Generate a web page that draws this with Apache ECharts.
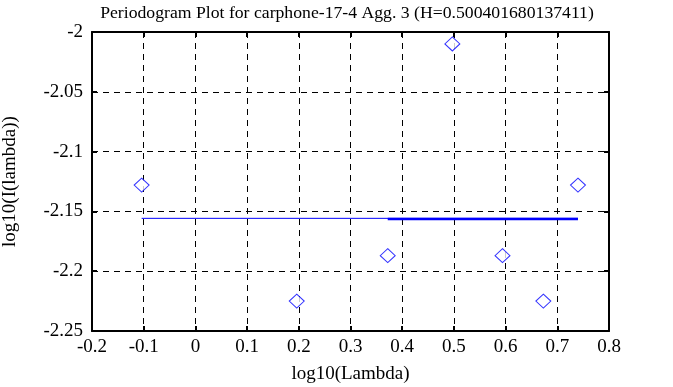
<!DOCTYPE html>
<html>
<head>
<meta charset="utf-8">
<script src="https://cdn.jsdelivr.net/npm/echarts@6/dist/echarts.min.js"></script>
<style>
html,body{margin:0;padding:0;background:#fff;}
#chart{width:673px;height:387px;}
</style>
</head>
<body>
<div id="chart"></div>
<script>
var titleText = 'Periodogram Plot for carphone-17-4 Agg. 3 (H=0.500401680137411)';
var xName = 'log10(Lambda)';
var yName = 'log10(I(lambda))';
var logLambda = [-0.104, 0.196, 0.372, 0.497, 0.594, 0.673, 0.740];
var logI = [-2.128, -2.225, -2.187, -2.010, -2.187, -2.225, -2.128];
var fitFullX = [-0.104, 0.740];
var fitFullY = [-2.1558, -2.1558];
var fitPartX = [0.372, 0.740];
var fitPartY = [-2.1563, -2.1563];

var font = 'Liberation Serif';
function fmt(v){ return String(parseFloat(v.toFixed(2))); }
function pairs(xs, ys){ return xs.map(function(x,i){ return [x, ys[i]]; }); }

var chart = echarts.init(document.getElementById('chart'));
var commonAxis = {
  axisLine:{show:true, onZero:false, lineStyle:{color:'#000', width:2}},
  axisTick:{show:true, inside:true, length:5, lineStyle:{color:'#000', width:2}},
};
chart.setOption({
  animation:false,
  backgroundColor:'#fff',
  title:{text:titleText, left:342, textAlign:'center', top:-1,
    textStyle:{fontFamily:font, fontSize:17.7, fontWeight:'normal', color:'#000'}},
  grid:{left:92, right:64, top:32, bottom:56, containLabel:false, outerBoundsMode:'none'},
  xAxis:[
    Object.assign({type:'value', min:-0.2, max:0.8, interval:0.1, position:'bottom',
      name:xName, nameLocation:'middle', nameGap:34,
      nameTextStyle:{fontFamily:font, fontSize:19, color:'#000'},
      axisLabel:{fontFamily:font, fontSize:19, color:'#000', margin:7, formatter:fmt},
      splitLine:{show:true, lineStyle:{color:'#000', type:[6,5], width:1}}
    }, commonAxis),
    Object.assign({type:'value', min:-0.2, max:0.8, interval:0.1, position:'top',
      axisLabel:{show:false}, splitLine:{show:false}}, commonAxis)
  ],
  yAxis:[
    Object.assign({type:'value', min:-2.25, max:-2, interval:0.05, position:'left',
      name:yName, nameLocation:'middle', nameGap:72, nameRotate:90,
      nameTextStyle:{fontFamily:font, fontSize:19, color:'#000'},
      axisLabel:{fontFamily:font, fontSize:19, color:'#000', margin:9, formatter:fmt},
      splitLine:{show:true, lineStyle:{color:'#000', type:[6,5], width:1}}
    }, commonAxis),
    Object.assign({type:'value', min:-2.25, max:-2, interval:0.05, position:'right',
      axisLabel:{show:false}, splitLine:{show:false}}, commonAxis)
  ],
  series:[
    {type:'line', data:pairs(fitFullX, fitFullY), symbol:'none',
      lineStyle:{color:'#0000ff', width:1}, z:3},
    {type:'line', data:pairs(fitPartX, fitPartY), symbol:'none',
      lineStyle:{color:'#0000ff', width:2.5}, z:3},
    {type:'scatter', data:pairs(logLambda, logI), symbol:'diamond', symbolSize:[15,14],
      itemStyle:{color:'#fff', borderColor:'#0000ff', borderWidth:1}, z:4}
  ]
});
</script>
</body>
</html>
